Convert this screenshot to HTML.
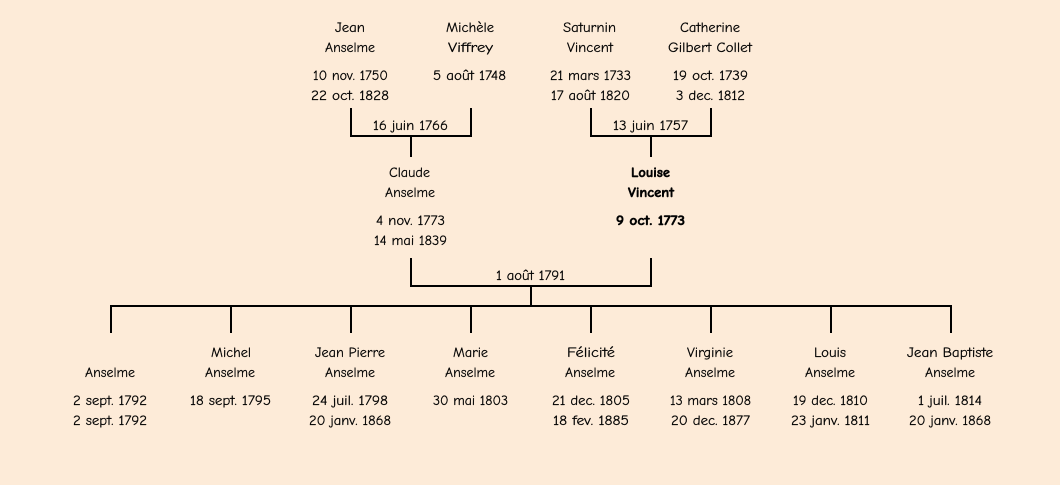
<!DOCTYPE html>
<html lang="fr"><head><meta charset="utf-8"><title>Arbre</title>
<style>
html,body{margin:0;padding:0;background:#fdebd8;width:1060px;height:485px;overflow:hidden}
svg{display:block}
text{font-family:"Comic Sans MS","Comic Neue","Chalkboard",cursive;font-size:14px;fill:#000;stroke:#000;stroke-width:.2px;text-anchor:middle}
.b{font-weight:bold;stroke-width:.5px}
</style></head><body>
<svg width="1060" height="485" viewBox="0 0 1060 485" xmlns="http://www.w3.org/2000/svg">
<rect width="1060" height="485" fill="#fdebd8"/>
<g stroke="#000" stroke-width="2" fill="none">
<path d="M351 108V136H471V108M411 136V157"/>
<path d="M591 108V136H711V108M651 136V157"/>
<path d="M411 258V286H651V258M531 286V306"/>
<path d="M111 333V306H951V333M231 306V333M351 306V333M471 306V333M591 306V333M711 306V333M831 306V333"/>
</g>
<g lengthAdjust="spacingAndGlyphs">
<text x="350" y="32" textLength="30" lengthAdjust="spacingAndGlyphs">Jean</text><text x="350" y="52" textLength="50" lengthAdjust="spacingAndGlyphs">Anselme</text><text x="350.5" y="80" textLength="75" lengthAdjust="spacingAndGlyphs">10 nov. 1750</text><text x="350" y="100" textLength="78" lengthAdjust="spacingAndGlyphs">22 oct. 1828</text>
<text x="470" y="32" textLength="48" lengthAdjust="spacingAndGlyphs">Michèle</text><text x="470.5" y="52" textLength="45" lengthAdjust="spacingAndGlyphs">Viffrey</text><text x="469.5" y="80" textLength="73" lengthAdjust="spacingAndGlyphs">5 août 1748</text>
<text x="589.5" y="32" textLength="53" lengthAdjust="spacingAndGlyphs">Saturnin</text><text x="590" y="52" textLength="46" lengthAdjust="spacingAndGlyphs">Vincent</text><text x="590.5" y="80" textLength="81" lengthAdjust="spacingAndGlyphs">21 mars 1733</text><text x="590.5" y="100" textLength="79" lengthAdjust="spacingAndGlyphs">17 août 1820</text>
<text x="710" y="32" textLength="60" lengthAdjust="spacingAndGlyphs">Catherine</text><text x="710" y="52" textLength="84" lengthAdjust="spacingAndGlyphs">Gilbert Collet</text><text x="710.5" y="80" textLength="75" lengthAdjust="spacingAndGlyphs">19 oct. 1739</text><text x="710.5" y="100" textLength="69" lengthAdjust="spacingAndGlyphs">3 dec. 1812</text>
<text x="410.5" y="130" textLength="75" lengthAdjust="spacingAndGlyphs">16 juin 1766</text><text x="650.5" y="130" textLength="75" lengthAdjust="spacingAndGlyphs">13 juin 1757</text>
<text x="409.5" y="177" textLength="41" lengthAdjust="spacingAndGlyphs">Claude</text><text x="410" y="197" textLength="50" lengthAdjust="spacingAndGlyphs">Anselme</text><text x="410.5" y="225" textLength="69" lengthAdjust="spacingAndGlyphs">4 nov. 1773</text><text x="410.5" y="245" textLength="73" lengthAdjust="spacingAndGlyphs">14 mai 1839</text>
<text class="b" x="650.5" y="177" textLength="39" lengthAdjust="spacingAndGlyphs">Louise</text><text class="b" x="651" y="197" textLength="46" lengthAdjust="spacingAndGlyphs">Vincent</text><text class="b" x="650.5" y="225" textLength="69" lengthAdjust="spacingAndGlyphs">9 oct. 1773</text>
<text x="530.5" y="280" textLength="69" lengthAdjust="spacingAndGlyphs">1 août 1791</text>
<text x="110" y="377" textLength="50" lengthAdjust="spacingAndGlyphs">Anselme</text><text x="110" y="405" textLength="74" lengthAdjust="spacingAndGlyphs">2 sept. 1792</text><text x="110" y="425" textLength="74" lengthAdjust="spacingAndGlyphs">2 sept. 1792</text>
<text x="231" y="357" textLength="40" lengthAdjust="spacingAndGlyphs">Michel</text><text x="230" y="377" textLength="50" lengthAdjust="spacingAndGlyphs">Anselme</text><text x="230.5" y="405" textLength="81" lengthAdjust="spacingAndGlyphs">18 sept. 1795</text>
<text x="350" y="357" textLength="70" lengthAdjust="spacingAndGlyphs">Jean Pierre</text><text x="350" y="377" textLength="50" lengthAdjust="spacingAndGlyphs">Anselme</text><text x="350" y="405" textLength="76" lengthAdjust="spacingAndGlyphs">24 juil. 1798</text><text x="350" y="425" textLength="82" lengthAdjust="spacingAndGlyphs">20 janv. 1868</text>
<text x="470.5" y="357" textLength="35" lengthAdjust="spacingAndGlyphs">Marie</text><text x="470" y="377" textLength="50" lengthAdjust="spacingAndGlyphs">Anselme</text><text x="470.5" y="405" textLength="75" lengthAdjust="spacingAndGlyphs">30 mai 1803</text>
<text x="591" y="357" textLength="48" lengthAdjust="spacingAndGlyphs">Félicité</text><text x="590" y="377" textLength="50" lengthAdjust="spacingAndGlyphs">Anselme</text><text x="591" y="405" textLength="78" lengthAdjust="spacingAndGlyphs">21 dec. 1805</text><text x="591" y="425" textLength="76" lengthAdjust="spacingAndGlyphs">18 fev. 1885</text>
<text x="710" y="357" textLength="46" lengthAdjust="spacingAndGlyphs">Virginie</text><text x="710" y="377" textLength="50" lengthAdjust="spacingAndGlyphs">Anselme</text><text x="710.5" y="405" textLength="81" lengthAdjust="spacingAndGlyphs">13 mars 1808</text><text x="710.5" y="425" textLength="79" lengthAdjust="spacingAndGlyphs">20 dec. 1877</text>
<text x="830" y="357" textLength="32" lengthAdjust="spacingAndGlyphs">Louis</text><text x="830" y="377" textLength="50" lengthAdjust="spacingAndGlyphs">Anselme</text><text x="830.5" y="405" textLength="75" lengthAdjust="spacingAndGlyphs">19 dec. 1810</text><text x="830.5" y="425" textLength="79" lengthAdjust="spacingAndGlyphs">23 janv. 1811</text>
<text x="950" y="357" textLength="86" lengthAdjust="spacingAndGlyphs">Jean Baptiste</text><text x="950" y="377" textLength="50" lengthAdjust="spacingAndGlyphs">Anselme</text><text x="950" y="405" textLength="64" lengthAdjust="spacingAndGlyphs">1 juil. 1814</text><text x="950" y="425" textLength="82" lengthAdjust="spacingAndGlyphs">20 janv. 1868</text>
</g>
</svg>
</body></html>
